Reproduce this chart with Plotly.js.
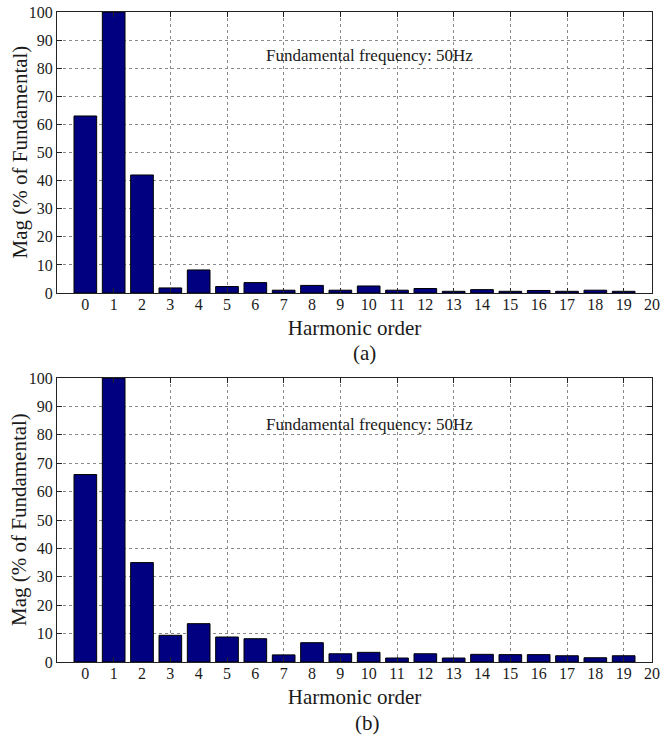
<!DOCTYPE html>
<html>
<head>
<meta charset="utf-8">
<script src="https://cdn.plot.ly/plotly-3.0.1.min.js"></script>
<style>
  html, body { margin: 0; padding: 0; background: #fff; }
  #chart { width: 668px; height: 738px; }
</style>
</head>
<body>
<div id="chart"></div>
<script>
// Harmonic orders shown on the x axis
const harmonicOrder = [0, 1, 2, 3, 4, 5, 6, 7, 8, 9, 10, 11, 12, 13, 14, 15, 16, 17, 18, 19];
const xTickLabels = ['0','1','2','3','4','5','6','7','8','9','10','11','12','13','14','15','16','17','18','19','20'];
const xTickValues = [0,1,2,3,4,5,6,7,8,9,10,11,12,13,14,15,16,17,18,19,20];
const xGridValues = [1, 3, 5, 7, 9, 11, 13, 15, 17, 19];
const yTickValues = [0, 10, 20, 30, 40, 50, 60, 70, 80, 90, 100];

// Spectrum (a): magnitude in % of fundamental
const magA = [63, 100, 42, 1.8, 8.2, 2.3, 3.7, 1.0, 2.7, 1.0, 2.5, 1.0, 1.6, 0.6, 1.2, 0.6, 0.9, 0.6, 1.0, 0.6];
// Spectrum (b): magnitude in % of fundamental
const magB = [66, 100, 35, 9.4, 13.5, 8.8, 8.2, 2.5, 6.8, 2.9, 3.4, 1.4, 2.9, 1.4, 2.7, 2.6, 2.6, 2.2, 1.5, 2.2];

const noteText = 'Fundamental frequency: 50Hz';
const xTitle = 'Harmonic order';
const yTitle = 'Mag (% of Fundamental)';

const FONT = 'Liberation Serif, Times New Roman, serif';
const INK = '#1a1a1a';
const BAR = '#000080';
const GRID = '#8a8a8a';

function barTrace(y, xa, ya) {
  return {
    type: 'bar', x: harmonicOrder, y: y, xaxis: xa, yaxis: ya,
    width: 0.8,
    marker: { color: BAR, line: { color: '#000', width: 1 } },
    hoverinfo: 'x+y', showlegend: false
  };
}
function gridHolder(xa, ya) {
  return { type: 'scatter', x: [], y: [], xaxis: xa, yaxis: ya, showlegend: false, hoverinfo: 'skip' };
}

const W = 668, H = 738;
const xDom = [57 / W, 652 / W];
const yDomTop = [1 - 293 / H, 1 - 12 / H];
const yDomBot = [1 - 662 / H, 1 - 378 / H];

function labelAxis(anchor, dom) {
  return {
    domain: dom, anchor: anchor, range: [-1, 20],
    tickmode: 'array', tickvals: xTickValues, ticktext: xTickLabels,
    ticks: '', showgrid: false, zeroline: false, ticklabelstandoff: -3,
    showline: true, mirror: true, linecolor: '#222', linewidth: 1,
    tickfont: { family: FONT, size: 16, color: INK },
    title: { text: xTitle, font: { family: FONT, size: 21, color: INK }, standoff: 8 }
  };
}
function gridAxis(over, anchor, dom) {
  return {
    domain: dom, anchor: anchor, overlaying: over, range: [-1, 20],
    tickmode: 'array', tickvals: xGridValues, showticklabels: false,
    ticks: 'inside', ticklen: 5, tickcolor: '#222', mirror: 'ticks',
    showline: false, zeroline: false,
    showgrid: true, gridcolor: GRID, gridwidth: 1, griddash: 'dot'
  };
}
function magAxis(anchor, dom) {
  return {
    domain: dom, anchor: anchor, range: [0, 100],
    tickmode: 'array', tickvals: yTickValues,
    ticks: 'inside', ticklen: 5, tickcolor: '#222',
    showline: true, mirror: 'ticks', linecolor: '#222', linewidth: 1,
    showgrid: true, gridcolor: GRID, gridwidth: 1, griddash: 'dot',
    zeroline: false,
    tickfont: { family: FONT, size: 16, color: INK }
  };
}

const data = [
  gridHolder('x3', 'y'),
  gridHolder('x4', 'y2'),
  barTrace(magA, 'x', 'y'),
  barTrace(magB, 'x2', 'y2')
];

function yTitleNote(dom) {
  return { text: yTitle, xref: 'paper', yref: 'paper', x: 19 / W, y: (dom[0] + dom[1]) / 2,
    xanchor: 'center', yanchor: 'middle', textangle: -90, showarrow: false,
    font: { family: FONT, size: 21, color: INK } };
}

const layout = {
  width: W, height: H,
  margin: { l: 0, r: 0, t: 0, b: 0 },
  paper_bgcolor: '#fff', plot_bgcolor: '#fff',
  font: { family: FONT, color: INK },
  showlegend: false,
  xaxis: labelAxis('y', xDom),
  yaxis: magAxis('x', yDomTop),
  xaxis2: labelAxis('y2', xDom),
  yaxis2: magAxis('x2', yDomBot),
  xaxis3: gridAxis('x', 'y', xDom),
  xaxis4: gridAxis('x2', 'y2', xDom),
  annotations: [
    yTitleNote(yDomTop),
    yTitleNote(yDomBot),
    { text: noteText, xref: 'x', yref: 'y', x: 6.3, y: 84.5, xanchor: 'left', yanchor: 'middle',
      showarrow: false, font: { family: FONT, size: 17, color: INK } },
    { text: noteText, xref: 'x2', yref: 'y2', x: 6.3, y: 83.7, xanchor: 'left', yanchor: 'middle',
      showarrow: false, font: { family: FONT, size: 17, color: INK } },
    { text: '(a)', xref: 'paper', yref: 'paper', x: 364 / W, y: 1 - 353 / H, xanchor: 'center', yanchor: 'middle',
      showarrow: false, font: { family: FONT, size: 21, color: INK } },
    { text: '(b)', xref: 'paper', yref: 'paper', x: 367 / W, y: 1 - 723 / H, xanchor: 'center', yanchor: 'middle',
      showarrow: false, font: { family: FONT, size: 21, color: INK } }
  ]
};

Plotly.newPlot('chart', data, layout, { displayModeBar: false, staticPlot: true });
</script>
</body>
</html>
